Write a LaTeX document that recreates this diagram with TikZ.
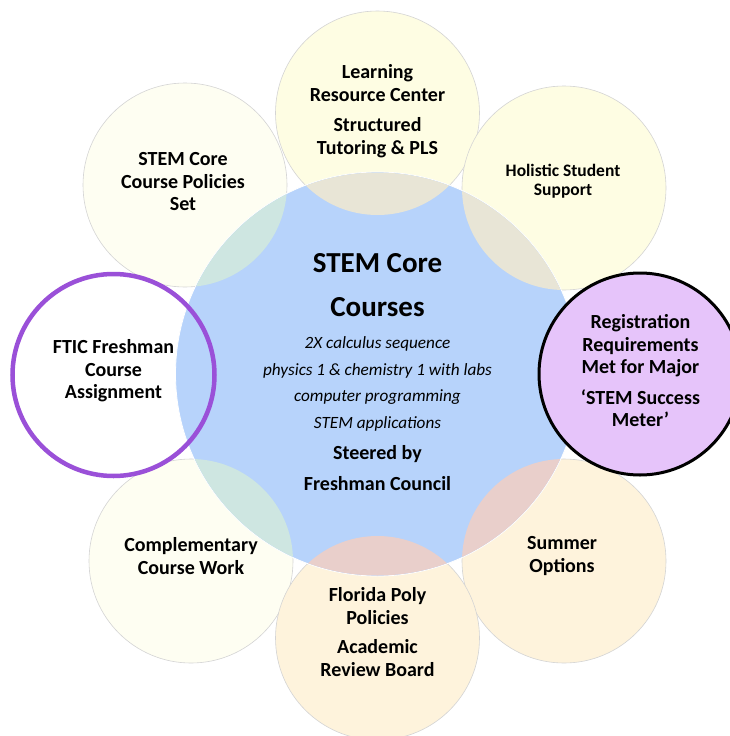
\documentclass[tikz,border=0pt]{standalone}
\usepackage{fontspec}
\setmainfont{Carlito}
\definecolor{coreblue}{HTML}{B7D3FB}
\definecolor{paleyellow}{HTML}{FEFDE3}
\definecolor{palecream}{HTML}{FEFEF2}
\definecolor{palepeach}{HTML}{FEF3DC}
\definecolor{lilac}{HTML}{E6C4FA}
\definecolor{violetring}{HTML}{9A50D8}
\definecolor{mixbeige}{HTML}{E8E5D6}
\definecolor{mixgreen}{HTML}{CEE6E1}
\definecolor{mixpink}{HTML}{E9CFCB}
\definecolor{rimgray}{HTML}{D4D4D4}
\begin{document}
\begin{tikzpicture}[x=1pt,y=-1pt,
  petal/.style={circle, minimum size=204pt, inner sep=0pt, draw=rimgray, line width=0.6pt},
  hub/.style={circle, minimum size=404pt, inner sep=0pt, fill=coreblue, draw=white, line width=0.8pt},
  lbl/.style={align=center, inner sep=0pt, font=\fontsize{20}{22.5}\selectfont\bfseries},
  smalllbl/.style={align=center, inner sep=0pt, font=\fontsize{17.5}{19}\selectfont\bfseries},
  titlelbl/.style={align=center, inner sep=0pt, font=\fontsize{29}{44}\selectfont\bfseries},
  listlbl/.style={align=center, inner sep=0pt, font=\fontsize{17.2}{26.5}\selectfont\itshape},
  steerlbl/.style={align=center, inner sep=0pt, font=\fontsize{20}{30.5}\selectfont\bfseries}]
\useasboundingbox (0,0) rectangle (730,736);
\fill[white] (0,0) rectangle (730,736);

% outer petals behind the hub
\node[petal, fill=paleyellow] (lrc) at (377.5,113) {};
\node[petal, fill=palecream]  (policies) at (185,185) {};
\node[petal, fill=paleyellow] (holistic) at (564,188) {};
\node[petal, fill=palecream]  (complementary) at (191,561) {};
\node[petal, fill=palepeach]  (summer) at (564,561) {};
\node[petal, fill=palepeach]  (florida) at (377.5,638) {};
\node[petal, fill=white, draw=none] (ftic) at (113.5,375) {};

% central hub
\node[hub] (core) at (377.5,374) {};

% tinted overlaps of petals with the hub
\begin{scope}
  \clip (core.center) circle (201.5);
  \fill[mixbeige] (lrc.center) circle (102);
  \fill[mixbeige] (holistic.center) circle (102);
  \fill[mixgreen] (policies.center) circle (102);
  \fill[mixgreen] (complementary.center) circle (102);
  \fill[mixpink]  (florida.center) circle (102);
  \fill[mixpink]  (summer.center) circle (102);
\end{scope}

% highlighted rings
\draw[violetring, line width=4.5pt] (ftic.center) circle (101);
\node[circle, minimum size=202pt, inner sep=0pt, fill=lilac, draw=black, line width=3pt] (meter) at (640,374) {};

% labels
\node[lbl] (lrc-t) at (377.5,111) {Learning\\Resource Center\\[8pt]Structured\\Tutoring \& PLS};
\node[lbl] (policies-t) at (183,182) {STEM Core\\Course Policies\\Set};
\node[smalllbl] (holistic-t) at (563,181) {Holistic Student\\Support};
\node[lbl] (ftic-t) at (113.5,371) {FTIC Freshman\\Course\\Assignment};
\node[lbl] (meter-t) at (640.5,371) {Registration\\Requirements\\Met for Major\\[8pt]‘STEM Success\\Meter’};
\node[lbl] (complementary-t) at (191,556) {Complementary\\Course Work};
\node[lbl] (summer-t) at (562,556) {Summer\\Options};
\node[lbl] (florida-t) at (377.5,632) {Florida Poly\\Policies\\[7pt]Academic\\Review Board};

\node[titlelbl] (core-title) at (377.5,285) {STEM Core\\Courses};
\node[listlbl] (core-list) at (377.5,384) {2X calculus sequence\\physics 1 \& chemistry 1 with labs\\computer programming\\STEM applications};
\node[steerlbl] (core-steer) at (377.5,468) {Steered by\\Freshman Council};
\end{tikzpicture}
\end{document}
